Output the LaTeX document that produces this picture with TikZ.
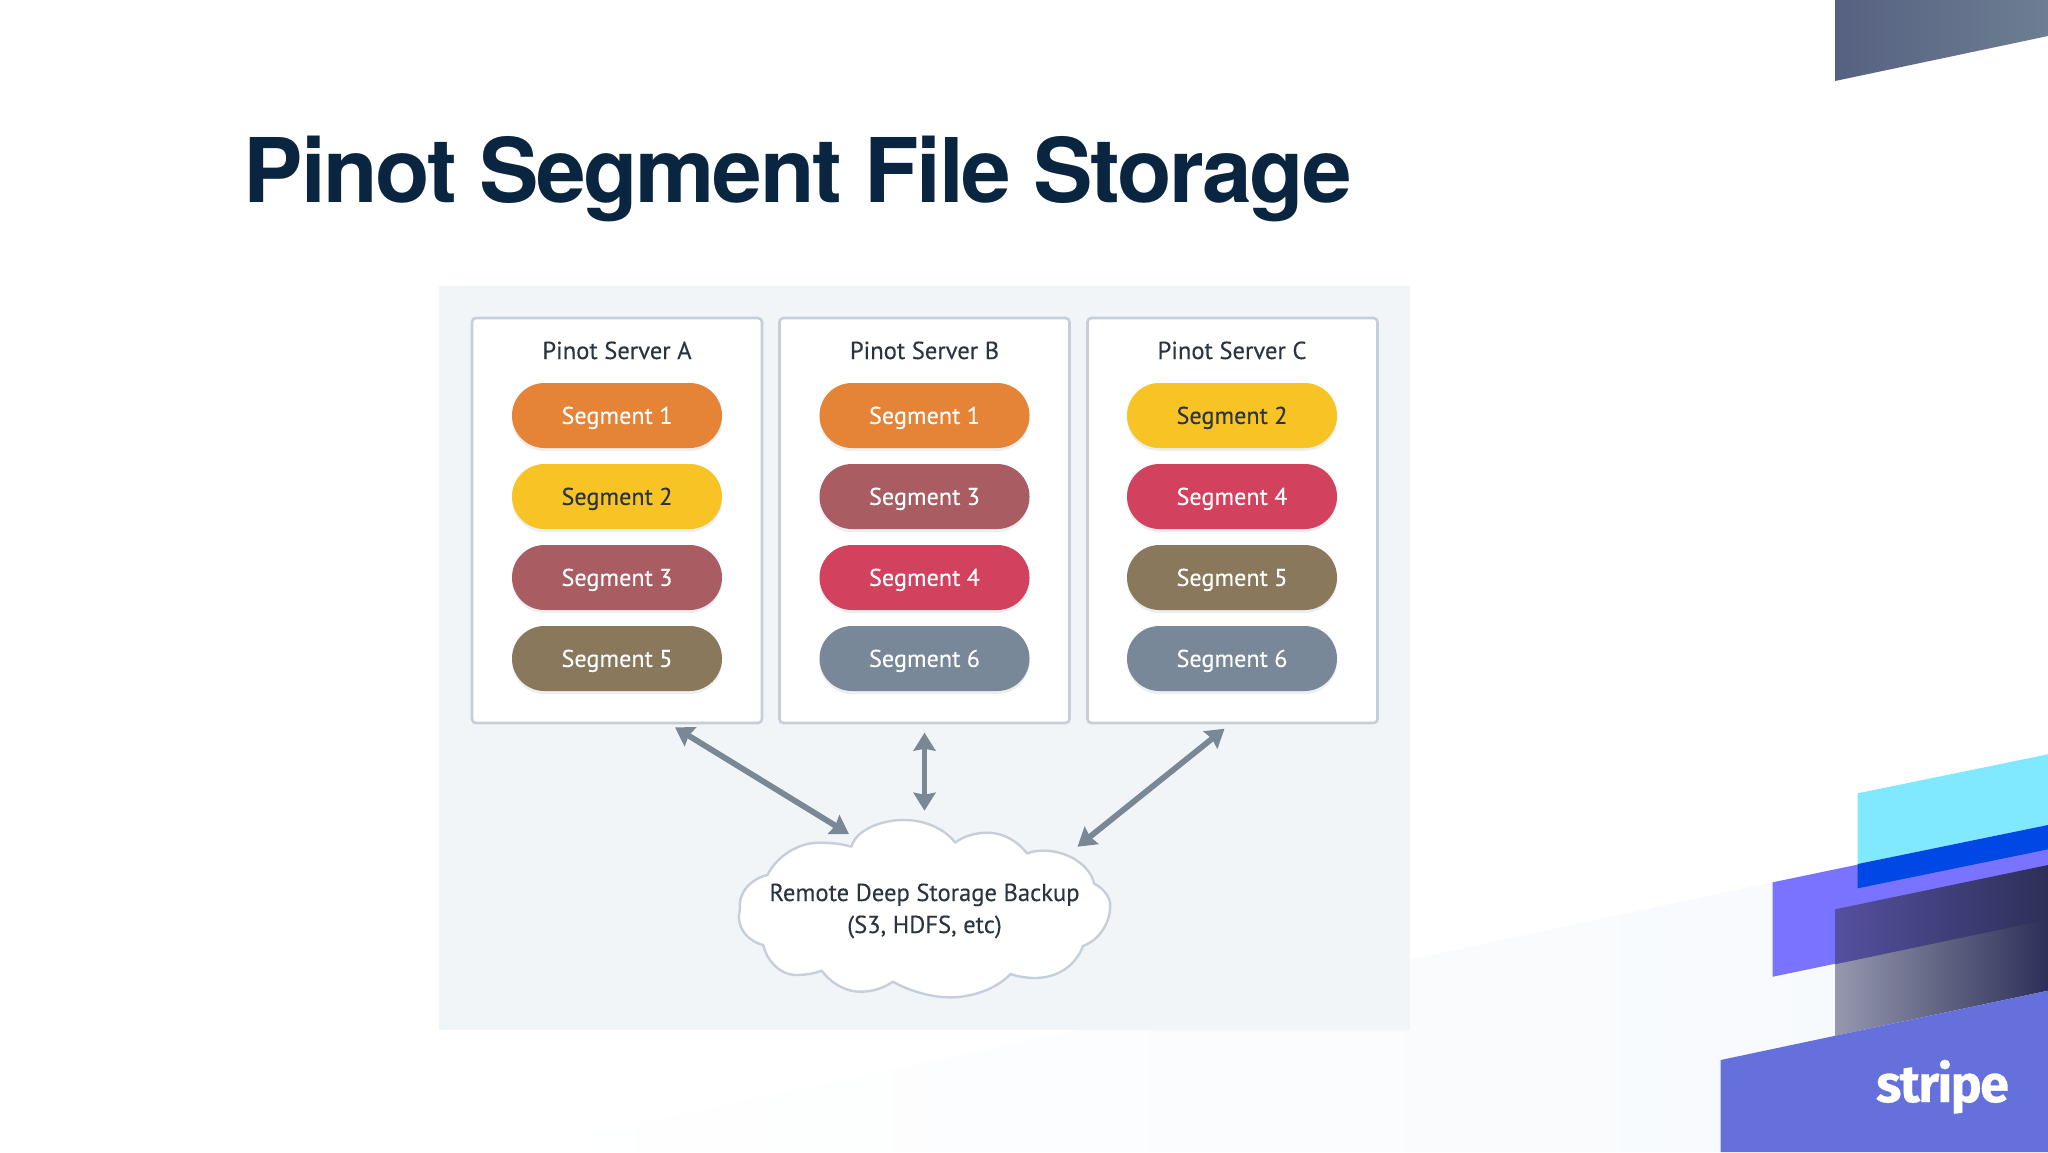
\documentclass[tikz,border=0pt]{standalone}
\usepackage{fontspec}
\setmainfont{PT Sans}[FakeBold=0.2]
\newfontfamily\titlefont{TeX Gyre Heros}[LetterSpace=-2.6]
\newfontfamily\logofont{Fira Sans}[LetterSpace=-3,BoldFeatures={FakeBold=0.6}]
\usetikzlibrary{arrows.meta,shadows}
\definecolor{ink}{HTML}{0A2540}
\definecolor{bodyink}{HTML}{2B3541}
\definecolor{panelbg}{HTML}{F2F5F8}
\definecolor{edgecol}{HTML}{C6CFD9}
\definecolor{arrowcol}{HTML}{7A8794}
\definecolor{segorange}{HTML}{E58337}
\definecolor{segyellow}{HTML}{F7C325}
\definecolor{segrose}{HTML}{A95D62}
\definecolor{segred}{HTML}{D2415D}
\definecolor{segolive}{HTML}{89785C}
\definecolor{segslate}{HTML}{788899}
\definecolor{lightband}{HTML}{F6F9FC}
\definecolor{cyanb}{HTML}{80E9FF}
\definecolor{purpleb}{HTML}{7A73FF}
\definecolor{blueb}{HTML}{0048E5}
\definecolor{blockb}{HTML}{6570DD}
\definecolor{topa}{HTML}{566181}
\definecolor{topb}{HTML}{6D7E92}
\definecolor{darka}{HTML}{55509F}
\definecolor{darkb}{HTML}{2E2F58}
\definecolor{darkc}{HTML}{9598AE}
\tikzset{
  server/.style={draw=edgecol,line width=1.3pt,fill=white,rounded corners=2pt,minimum width=145pt,minimum height=202.5pt,inner sep=0pt},
  pill/.style={rounded corners=16.2pt,minimum width=105pt,minimum height=32.5pt,inner sep=0pt,
    drop shadow={shadow xshift=0pt,shadow yshift=-1.5pt,opacity=.14,fill=arrowcol}},
  pilltext/.style={anchor=base,font=\fontsize{12.1}{14}\selectfont},
  serverlabel/.style={anchor=base,text=bodyink,font=\fontsize{12.3}{14}\selectfont},
  link/.style={draw=arrowcol,line width=2.9pt,{Stealth[length=9pt,width=11pt,inset=1pt]}-{Stealth[length=9pt,width=11pt,inset=1pt]}},
}
\begin{document}
\begin{tikzpicture}[x=0.5pt,y=-0.5pt]
\useasboundingbox (0,0) rectangle (2048,1152);
\fill[white] (0,0) rectangle (2048,1152);
% background decoration
\shade[left color=white,middle color=lightband,right color=lightband] (506,1152) -- (1772.7,882.3) -- (2048,825) -- (2048,1152) -- cycle;
\shade[left color=topa,right color=topb] (1835,0) -- (2048,0) -- (2048,36) -- (1835,81) -- cycle;
\fill[purpleb] (1772.7,882.3) -- (2048,825) -- (2048,919.5) -- (1772.7,976.7) -- cycle;
\fill[cyanb] (1857.7,793.3) -- (2048,754.3) -- (2048,825) -- (1857.7,864) -- cycle;
\fill[blueb] (1857.7,864) -- (2048,825) -- (2048,849.3) -- (1857.7,888.3) -- cycle;
\shade[left color=darkc,right color=darkb] (1835,962.8) -- (2048,918) -- (2048,990.7) -- (1835,1035.8) -- cycle;
\shade[left color=darka,right color=darkb] (1835,909.3) -- (2048,865) -- (2048,919.5) -- (1835,964.3) -- cycle;
\fill[blockb] (1720.7,1060) -- (2048,990.7) -- (2048,1152) -- (1720.7,1152) -- cycle;
\node[anchor=base,text=white,inner sep=0pt] (logo) at (1942.5,1102) {\logofont\bfseries\fontsize{26}{30}\selectfont stripe};
% title
\node[anchor=base west,inner sep=0pt,text=ink] (title) at (243.5,202) {\titlefont\bfseries\fontsize{44.6}{50}\selectfont Pinot Segment File Storage};
% panel
\fill[panelbg] (439,286) rectangle (1410,1030);
% servers
\node[server] (serverA) at (617,520.5) {};
\node[server] (serverB) at (924.5,520.5) {};
\node[server] (serverC) at (1232.5,520.5) {};
\node[serverlabel] (labelA) at (617,359) {Pinot Server A};
\node[serverlabel] (labelB) at (924.5,359) {Pinot Server B};
\node[serverlabel] (labelC) at (1232,359) {Pinot Server C};
% segments
\foreach \nm/\cx/\cy/\col/\txt/\n in {
  a1/617/415.5/segorange/white/1, a2/617/496.5/segyellow/bodyink/2, a3/617/577.5/segrose/white/3, a4/617/658.5/segolive/white/5,
  b1/924.5/415.5/segorange/white/1, b2/924.5/496.5/segrose/white/3, b3/924.5/577.5/segred/white/4, b4/924.5/658.5/segslate/white/6,
  c1/1232/415.5/segyellow/bodyink/2, c2/1232/496.5/segred/white/4, c3/1232/577.5/segolive/white/5, c4/1232/658.5/segslate/white/6}{
  \node[pill,fill=\col] (\nm) at (\cx,\cy) {};
  \node[pilltext,text=\txt] (\nm t) at ([yshift=-4.2pt]\nm.center) {Segment \n};
}
% cloud
\begin{scope}[shift={(640,700)},x=0.20408pt,y=-0.16667pt]
\draw[draw=edgecol,line width=1.2pt,fill=white,line join=round]
 (518,440) .. controls (530,385) and (600,358) .. (650,360) .. controls (700,360) and (750,390) .. (772,428)
 .. controls (795,405) and (830,398) .. (850,398) .. controls (895,398) and (930,430) .. (948,460)
 .. controls (965,452) and (980,452) .. (990,452) .. controls (1050,452) and (1105,500) .. (1112,550)
 .. controls (1135,565) and (1152,590) .. (1152,615) .. controls (1152,670) and (1125,720) .. (1085,738)
 .. controls (1070,790) and (1030,832) .. (970,834) .. controls (950,834) and (925,830) .. (908,822)
 .. controls (870,870) and (810,892) .. (760,892) .. controls (710,892) and (655,870) .. (620,845)
 .. controls (595,865) and (570,875) .. (540,875) .. controls (500,875) and (465,845) .. (445,812)
 .. controls (425,822) and (400,825) .. (380,825) .. controls (340,822) and (310,780) .. (302,735)
 .. controls (270,725) and (243,695) .. (242,650) .. controls (242,640) and (245,632) .. (245,625)
 .. controls (240,575) and (275,535) .. (312,525) .. controls (335,470) and (385,428) .. (440,428)
 .. controls (470,428) and (495,432) .. (518,440) -- cycle;
\end{scope}
\node[serverlabel] (cloudA) at (924.5,901) {Remote Deep Storage Backup};
\node[serverlabel] (cloudB) at (924.5,933) {(S3, HDFS, etc)};
% connectors
\coordinate (aEnd) at (675,727.3);
\coordinate (aCloud) at (849,834);
\coordinate (bEnd) at (924.5,732.7);
\coordinate (bCloud) at (924.5,810.7);
\coordinate (cEnd) at (1224.5,728.7);
\coordinate (cCloud) at (1077.5,846.7);
\draw[link] (aEnd) -- (aCloud);
\draw[link] (bEnd) -- (bCloud);
\draw[link] (cEnd) -- (cCloud);
\end{tikzpicture}
\end{document}
